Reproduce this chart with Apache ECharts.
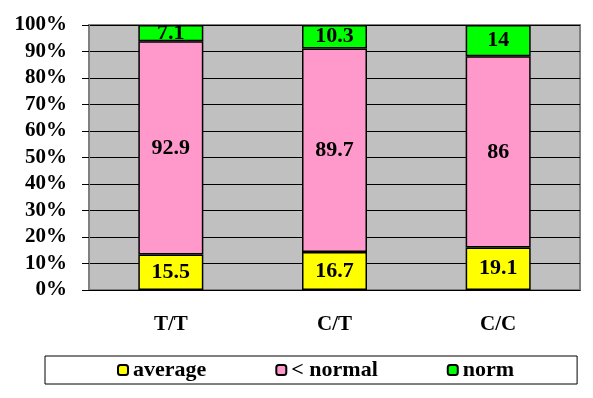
<!DOCTYPE html>
<html>
<head>
<meta charset="utf-8">
<script src="https://cdn.jsdelivr.net/npm/echarts@6/dist/echarts.min.js"></script>
<style>
  html, body { margin: 0; padding: 0; background: #fff; }
  #chart { width: 593px; height: 398px; }
</style>
</head>
<body>
<div id="chart"></div>
<script>
const categories = ["T/T", "C/T", "C/C"];
const average = [15.5, 16.7, 19.1];
const belowNormal = [92.9, 89.7, 86];
const norm = [7.1, 10.3, 14];
const seriesNames = ["average", "< normal", "norm"];
const colors = ["#ffff00", "#ff99cc", "#00ff00"];

const font = "Liberation Serif";
const raw = [average, belowNormal, norm];
// 100% stacked: share of each column's total
const totals = categories.map((c, i) => raw.reduce((s, arr) => s + arr[i], 0));
const pct = raw.map(arr => arr.map((v, i) => (v / totals[i]) * 100));

const chart = echarts.init(document.getElementById("chart"));
chart.setOption({
  animation: false,
  textStyle: { fontFamily: font },
  grid: {
    left: 89,
    right: 13,
    top: 25,
    bottom: 108,
    show: true,
    backgroundColor: "#c0c0c0",
    borderColor: "#808080",
    borderWidth: 2
  },
  legend: {
    left: 45,
    top: 356,
    padding: [3, 63, 3, 72],
    itemGap: 69,
    itemWidth: 10,
    itemHeight: 10,
    itemStyle: { borderColor: "#000", borderWidth: 2 },
    borderColor: "#000",
    borderWidth: 1,
    textStyle: { fontFamily: font, fontWeight: "bold", fontSize: 22, color: "#000" },
    data: seriesNames
  },
  xAxis: {
    type: "category",
    data: categories,
    axisLine: { lineStyle: { color: "#000", width: 1 } },
    axisTick: { length: 5, lineStyle: { color: "#000" } },
    axisLabel: { margin: 24, fontFamily: font, fontWeight: "bold", fontSize: 21, color: "#000" }
  },
  yAxis: {
    type: "value",
    min: 0,
    max: 100,
    interval: 10,
    axisLine: { show: true, lineStyle: { color: "#808080", width: 2 } },
    axisTick: { show: true, length: 7, lineStyle: { color: "#000" } },
    splitLine: { lineStyle: { color: "#000", width: 1 } },
    axisLabel: { formatter: "{value}%", margin: 22, fontFamily: font, fontWeight: "bold", fontSize: 21, color: "#000" }
  },
  series: seriesNames.map((name, k) => ({
    name: name,
    type: "bar",
    stack: "total",
    barWidth: 65,
    data: pct[k],
    itemStyle: { color: colors[k], borderColor: "#000", borderWidth: 1.5 },
    label: {
      show: true,
      position: "inside",
      formatter: p => String(raw[k][p.dataIndex]),
      fontFamily: font,
      fontWeight: "bold",
      fontSize: 22,
      color: "#000"
    }
  }))
});
</script>
</body>
</html>
